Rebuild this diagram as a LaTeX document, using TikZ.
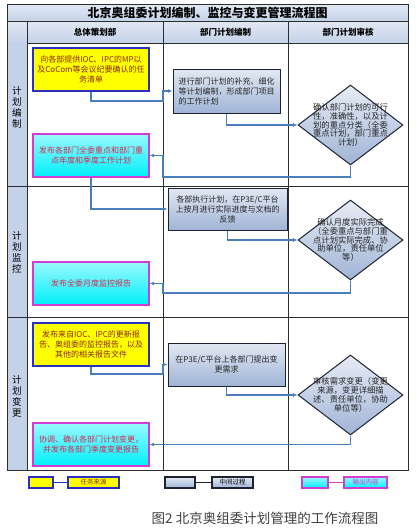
\documentclass[tikz,border=0pt]{standalone}
\usepackage{fontspec}
\setmainfont{Noto Sans CJK SC}
\usetikzlibrary{arrows.meta,shapes.geometric}
\definecolor{lanebg}{RGB}{196,210,232}
\definecolor{gridline}{RGB}{45,45,45}
\definecolor{srcyellow}{RGB}{255,255,0}
\definecolor{srcblue}{RGB}{40,50,190}
\definecolor{srctext}{RGB}{140,40,20}
\definecolor{procfill}{RGB}{160,180,214}
\definecolor{procline}{RGB}{30,35,50}
\definecolor{outcyan}{RGB}{0,240,250}
\definecolor{outmagenta}{RGB}{210,60,210}
\definecolor{outtext}{RGB}{215,40,80}
\definecolor{flowblue}{RGB}{74,126,187}

\begin{document}
\begin{tikzpicture}[
    x=1pt, y=-1pt,
    grid/.style={draw=gridline, line width=0.9pt},
    srcbox/.style={draw=srcblue, line width=1.3pt, fill=srcyellow, minimum width=116pt,
                minimum height=43pt, align=center, text=srctext, inner sep=1pt,
                font=\fontsize{8}{10}\selectfont},
    outbox/.style={draw=outmagenta, line width=1.3pt, top color=outcyan!40!white, bottom color=outcyan,
                minimum width=116pt, minimum height=43pt, align=center, text=outtext, inner sep=1pt,
                font=\fontsize{8}{10}\selectfont},
    procbox/.style={draw=procline, line width=1pt, top color=procfill!30!white, bottom color=procfill,
                 align=center, text=black!85, inner sep=1pt, font=\fontsize{8}{10}\selectfont},
    chkbox/.style={diamond, draw=procline, line width=1pt, top color=procfill!25!white,
                bottom color=procfill, minimum width=105pt, minimum height=80pt, inner sep=0pt},
    chktext/.style={align=center, text=black!85, font=\fontsize{8.3}{8.8}\selectfont},
    arr/.style={-{Latex[length=4.5pt,width=4pt]}, line width=1.2pt, flowblue},
    lanetext/.style={align=center, font=\fontsize{9.5}{11}\selectfont},
    headtext/.style={font=\bfseries\fontsize{8.5}{10}\selectfont},
    keybox/.style={minimum height=11pt, inner sep=0pt, line width=1.2pt, font=\fontsize{6.5}{7}\selectfont}
]
\useasboundingbox (0,0) rectangle (420,530);
\fill[white] (0,0) rectangle (420,530);

\shade[top color=lanebg!50!white, bottom color=lanebg] (7,4) rectangle (408,21);
\shade[top color=lanebg!50!white, bottom color=lanebg] (7,21) rectangle (408,43);
\fill[lanebg] (7,43) rectangle (27,470);
\draw[grid] (7,4) rectangle (408,470);
\draw[grid] (7,21) -- (408,21);
\draw[grid] (27,43) -- (408,43);
\draw[grid] (7,186) -- (408,186);
\draw[grid] (7,317) -- (408,317);
\draw[grid] (27,21) -- (27,470);
\draw[grid] (163,21) -- (163,470);
\draw[grid] (288,21) -- (288,470);

\node[font=\bfseries\fontsize{12}{14}\selectfont] (title) at (207.5,12.5) {北京奥组委计划编制、监控与变更管理流程图};
\node[headtext] (h1) at (95,32) {总体策划部};
\node[headtext] (h2) at (225.5,32) {部门计划编制};
\node[headtext] (h3) at (348,32) {部门计划审核};

\node[lanetext] (l1) at (17,107) {计\\划\\编\\制};
\node[lanetext] (l2) at (17,252) {计\\划\\监\\控};
\node[lanetext] (l3) at (17,396) {计\\划\\变\\更};

\node[srcbox] (b1) at (91,69.5) {向各部提供IOC、IPC的MP以\\及CoCom等会议纪要确认的任\\务清单};
\node[procbox, minimum width=107pt, minimum height=44pt, align=left] (b2) at (226.5,91)
    {进行部门计划的补充、细化\\等计划编制，形成部门项目\\的工作计划};
\node[chkbox] (d1) at (350.5,125) {};
\node[chktext] (d1t) at (d1) {确认部门计划的可行\\性，准确性，以及计\\划的重点分类（全委\\重点计划，部门重点\\计划）};
\node[outbox] (b3) at (91,155.5) {发布各部门全委重点和部门重\\点年度和季度工作计划};

\node[procbox, minimum width=119pt, minimum height=42pt] (b4) at (227.5,209)
    {各部执行计划，在P3E/C平台\\上按月进行实际进度与文档的\\反馈};
\node[chkbox] (d2) at (350.5,240) {};
\node[chktext] (d2t) at (d2) {确认月度实际完成\\（全委重点与部门重\\点计划实际完成、协\\助单位，责任单位\\等）};
\node[outbox] (b5) at (91,283.5) {发布全委月度监控报告};

\node[srcbox] (b6) at (91,344.5) {发布来自IOC、IPC的更新报\\告、奥组委的监控报告，以及\\其他的相关报告文件};
\node[procbox, minimum width=117pt, minimum height=43pt] (b7) at (226.5,364.5)
    {在P3E/C平台上各部门提出变\\更需求};
\node[chkbox] (d3) at (350.5,395) {};
\node[chktext] (d3t) at (d3) {审核需求变更（变更\\来源，变更详细描\\述、责任单位，协助\\单位等）};
\node[outbox] (b8) at (91,444.5) {协调、确认各部门计划变更，\\并发布各部门季度变更报告};

\coordinate (j1) at (163,101);
\coordinate (j2) at (163,177);
\coordinate (j3) at (163,293);
\coordinate (j4) at (163,374);
\draw[arr] (b1.south) |- (j1) |- (b2.west);
\draw[arr] (b2.south) |- (d1.west);
\draw[arr] (d1.south) |- (j2) |- (b3.east);
\draw[arr] (b3.south) |- (b4.west);
\draw[arr] (b4.south) |- (d2.west);
\draw[arr] (d2.south) |- (j3) |- (b5.east);
\draw[arr] (b6.south) |- (j4) |- (b7.west);
\draw[arr] (b7.south) |- (d3.west);
\draw[arr] (d3.south) |- (b8.east);

\node[keybox, minimum width=24pt, draw=srcblue, fill=srcyellow] (k1) at (41,482.5) {};
\node[keybox, minimum width=51pt, draw=srcblue, fill=srcyellow, text=srctext] (k1t) at (93.5,482.5) {任务来源};
\node[keybox, minimum width=30pt, draw=procline, top color=procfill!30!white, bottom color=procfill] (k2) at (180,482.5) {};
\node[keybox, minimum width=41pt, draw=procline, top color=procfill!30!white, bottom color=procfill] (k2t) at (232.5,482.5) {中间过程};
\node[keybox, minimum width=26pt, draw=outmagenta, top color=outcyan!40!white, bottom color=outcyan] (k3) at (315,482.5) {};
\node[keybox, minimum width=43pt, draw=outmagenta, top color=outcyan!40!white, bottom color=outcyan, text=outmagenta] (k3t) at (365.5,482.5) {输出内容};
\draw[srcblue, line width=1.2pt] (k1) -- (k1t);
\draw[procline, line width=1.2pt] (k2) -- (k2t);
\draw[outmagenta, line width=1.2pt] (k3) -- (k3t);

\node[font=\fontsize{13.5}{15}\selectfont, text=black!75] (cap) at (265,518) {图2\ 北京奥组委计划管理的工作流程图};
\end{tikzpicture}
\end{document}
